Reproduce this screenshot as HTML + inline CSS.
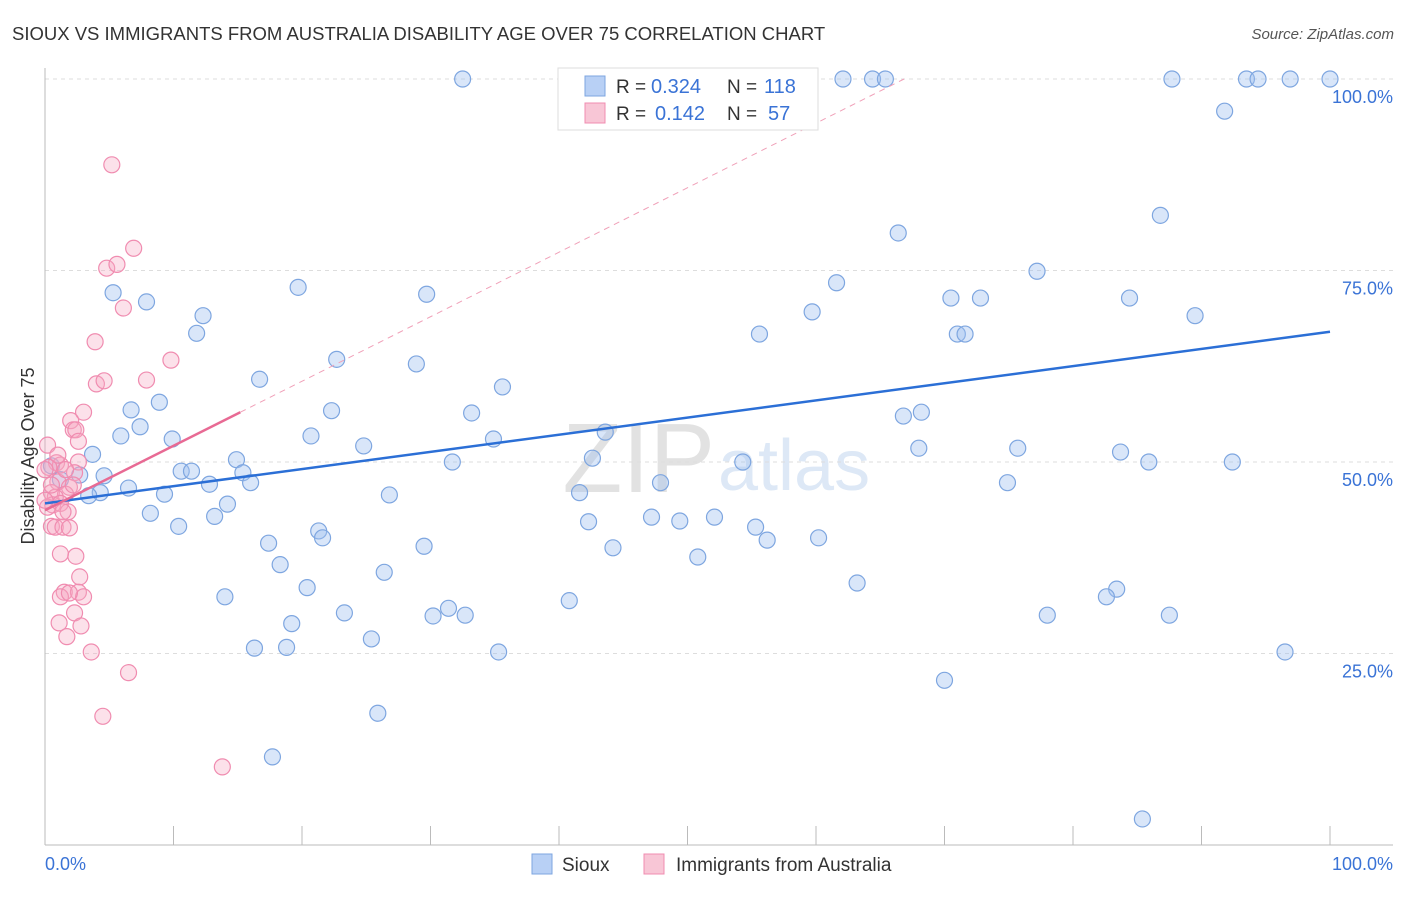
<!DOCTYPE html>
<html><head><meta charset="utf-8"><style>
body{margin:0;background:#fff;font-family:"Liberation Sans",sans-serif}
svg text{font-family:"Liberation Sans",sans-serif}
</style></head><body>
<svg id="c" width="1406" height="892" xmlns="http://www.w3.org/2000/svg">
<text x="12" y="40" font-size="18.5" fill="#333">SIOUX VS IMMIGRANTS FROM AUSTRALIA DISABILITY AGE OVER 75 CORRELATION CHART</text>
<text x="1394" y="39" font-size="15" fill="#555" font-style="italic" text-anchor="end">Source: ZipAtlas.com</text>
<text x="715" y="492" font-size="98" fill="#e2e2e2" font-family="Liberation Serif" text-anchor="end">ZIP</text>
<text x="718" y="490" font-size="72" fill="#dde8f6">atlas</text>
<g id="grid"></g><g id="axes"></g><g id="marks"></g>
<text x="34" y="456" font-size="18" fill="#333" text-anchor="middle" transform="rotate(-90 34 456)">Disability Age Over 75</text>
<text x="45" y="870" font-size="18" fill="#3a73d6">0.0%</text>
<text x="1393" y="870" font-size="18" fill="#3a73d6" text-anchor="end">100.0%</text>
<g>
<rect x="558" y="68" width="260" height="62" fill="#fff" stroke="#ddd"/>
<rect x="585" y="76" width="20" height="20" fill="#b8d0f5" stroke="#7ea6e0"/>
<rect x="585" y="103" width="20" height="20" fill="#f8c6d6" stroke="#f08cb0"/>
<text x="616" y="93" font-size="19" fill="#333">R =</text>
<text x="651" y="93" font-size="20" fill="#3a73d6">0.324</text>
<text x="727" y="93" font-size="19" fill="#333">N =</text>
<text x="764" y="93" font-size="20" fill="#3a73d6">118</text>
<text x="616" y="120" font-size="19" fill="#333">R =</text>
<text x="655" y="120" font-size="20" fill="#3a73d6">0.142</text>
<text x="727" y="120" font-size="19" fill="#333">N =</text>
<text x="768" y="120" font-size="20" fill="#3a73d6">57</text>
</g>
<g>
<rect x="532" y="854" width="20" height="20" fill="#b8d0f5" stroke="#7ea6e0"/>
<text x="562" y="871" font-size="19" fill="#333">Sioux</text>
<rect x="644" y="854" width="20" height="20" fill="#f8c6d6" stroke="#f08cb0"/>
<text x="676" y="871" font-size="19" fill="#333">Immigrants from Australia</text>
</g>
</svg>
<script>
const yTicks=[25,50,75,100];
const yTickLabels=["25.0%","50.0%","75.0%","100.0%"];
const xTicks=[0,10,20,30,40,50,60,70,80,90,100];
const siouxX=[32.5,45.4,62.1,64.4,65.4,87.7,93.5,94.4,96.9,100,91.8,86.8,66.4,77.2,5.3,7.9,19.7,29.7,61.6,70.5,72.8,84.4,12.3,59.7,89.5,11.8,55.6,71.0,71.6,22.7,28.9,16.7,35.6,8.9,6.7,22.3,33.2,66.8,68.2,7.4,5.9,20.7,43.6,9.9,34.9,24.8,3.7,68.0,75.7,83.7,14.9,31.7,42.6,54.3,85.9,92.4,0.5,10.6,11.4,15.4,2.7,4.6,1.2,12.8,16.0,47.9,74.9,6.5,4.3,26.8,41.6,9.3,3.4,14.2,8.2,13.2,47.2,49.4,52.1,10.4,42.3,55.3,21.3,21.6,56.2,60.2,17.4,29.5,44.2,50.8,18.3,26.4,63.2,20.4,14.0,83.4,82.6,40.8,23.3,31.4,30.2,32.7,78.0,87.5,19.2,25.4,16.3,18.8,35.3,96.5,70.0,25.9,17.7,85.4];
const siouxY=[100,100,100,100,100,100,100,100,100,100,95.8,82.2,79.9,74.9,72.1,70.9,72.8,71.9,73.4,71.4,71.4,71.4,69.1,69.6,69.1,66.8,66.7,66.7,66.7,63.4,62.8,60.8,59.8,57.8,56.8,56.7,56.4,56.0,56.5,54.6,53.4,53.4,53.9,53.0,53.0,52.1,51.0,51.8,51.8,51.3,50.3,50.0,50.5,50.0,50.0,50.0,49.5,48.8,48.8,48.6,48.3,48.2,47.7,47.1,47.3,47.3,47.3,46.6,46.0,45.7,46.0,45.8,45.6,44.5,43.3,42.9,42.8,42.3,42.8,41.6,42.2,41.5,41.0,40.1,39.8,40.1,39.4,39.0,38.8,37.6,36.6,35.6,34.2,33.6,32.4,33.4,32.4,31.9,30.3,30.9,29.9,30.0,30.0,30.0,28.9,26.9,25.7,25.8,25.2,25.2,21.5,17.2,11.5,3.4];
const ausX=[5.2,6.9,4.8,5.6,6.1,3.9,9.8,7.9,4.0,4.6,3.0,2.0,2.2,2.4,2.6,0.9,1.2,2.6,0.3,2.3,1.0,1.9,0.5,1.6,0.8,0.6,0.2,1.2,1.8,0.5,0.8,1.4,1.9,1.2,2.4,2.7,1.5,1.2,2.6,3.0,1.9,2.3,1.1,2.8,1.7,3.6,6.5,4.5,13.8,0.0,0.0,0.2,1.0,1.6,0.5,2.2,1.4];
const ausY=[88.8,77.9,75.3,75.8,70.1,65.7,63.3,60.7,60.2,60.6,56.5,55.4,54.2,54.2,52.7,49.9,49.6,50.0,49.3,48.6,47.4,46.7,46.0,45.8,45.4,44.4,44.1,44.6,43.5,41.6,41.5,41.5,41.4,38.0,37.7,35.0,33.0,32.4,33.0,32.4,32.9,30.3,29.0,28.6,27.2,25.2,22.5,16.8,10.2,49.0,45.0,52.2,50.9,49.0,47.0,47.0,43.5];
const siouxTrend=[44.6,67.0];
const ausTrend=[43.7,56.5];
const ausTrendEnd=15.2;
const NS="http://www.w3.org/2000/svg";
const X=v=>45+v*12.85, Y=v=>845-v*7.66;
function mk(t,a,p){const e=document.createElementNS(NS,t);for(const k in a)e.setAttribute(k,a[k]);p.appendChild(e);return e;}
const grid=document.getElementById('grid'),axes=document.getElementById('axes'),marks=document.getElementById('marks');
yTicks.forEach((t,i)=>{
 const l=mk('line',{x1:45,x2:1393,y1:Y(t),y2:Y(t),stroke:'#ddd','stroke-dasharray':'4,4'},grid);
 
 
 const tx=mk('text',{x:1393,y:Y(t)+24,'font-size':18,fill:'#3a73d6','text-anchor':'end'},grid);
 tx.textContent=yTickLabels[i];
 
 
});
const ya=mk('line',{x1:45,x2:45,y1:68,y2:845,stroke:'#bbb'},axes);


const xa=mk('line',{x1:45,x2:1393,y1:845,y2:845,stroke:'#bbb'},axes);


xTicks.forEach(t=>{
 const l=mk('line',{x1:X(t),x2:X(t),y1:826,y2:845,stroke:'#bbb'},axes);
 
 
});
siouxX.forEach((v,i)=>{
 const c=mk('circle',{cx:X(v),cy:Y(siouxY[i]),r:8,fill:'rgba(160,192,240,0.4)',stroke:'#7ea6e0','stroke-width':1.2},marks);
 
 
});
ausX.forEach((v,i)=>{
 const c=mk('circle',{cx:X(v),cy:Y(ausY[i]),r:8,fill:'rgba(245,170,195,0.35)',stroke:'#f08cb0','stroke-width':1.2},marks);
 
 
});
const slope=(ausTrend[1]-ausTrend[0])/ausTrendEnd, xe=(100-ausTrend[0])/slope;
const d=mk('line',{x1:X(ausTrendEnd),y1:Y(ausTrend[1]),x2:X(xe),y2:Y(100),stroke:'#f0a0b8','stroke-dasharray':'6,5','stroke-width':1},marks);


const st=mk('line',{x1:X(0),y1:Y(siouxTrend[0]),x2:X(100),y2:Y(siouxTrend[1]),stroke:'#2b6fd6','stroke-width':2.5},marks);


const at=mk('line',{x1:X(0),y1:Y(ausTrend[0]),x2:X(ausTrendEnd),y2:Y(ausTrend[1]),stroke:'#e86a94','stroke-width':2.5},marks);


</script>
</body></html>
